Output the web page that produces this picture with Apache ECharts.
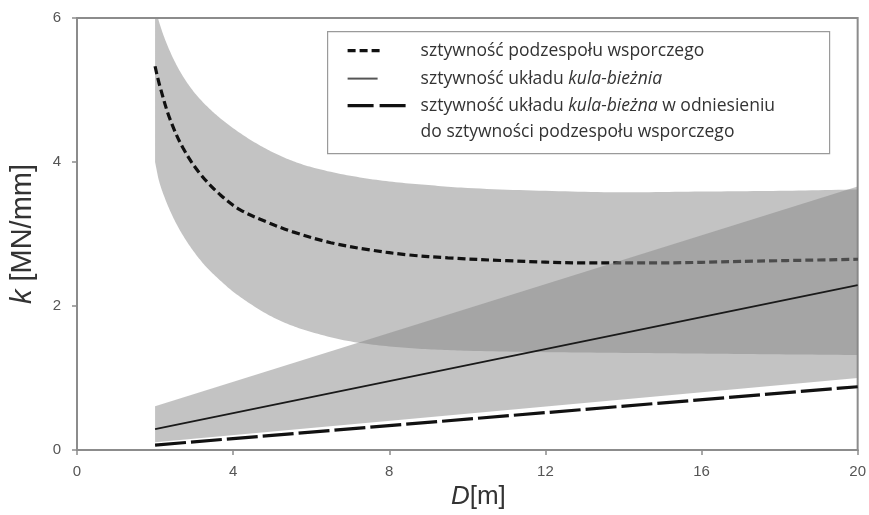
<!DOCTYPE html>
<html>
<head>
<meta charset="utf-8">
<script src="https://cdn.jsdelivr.net/npm/echarts@6/dist/echarts.min.js"></script>
<style>
html,body{margin:0;padding:0;background:#fff;}
#chart{width:869px;height:515px;}
</style>
</head>
<body>
<div id="chart"></div>
<script>
// ---- data ----
const xTicks = [0, 4, 8, 12, 16, 20];
const yTicks = [0, 2, 4, 6];

// band around support-subsystem stiffness
const band1D     = [2, 2.1, 2.25, 2.5, 2.75, 3, 3.3, 3.6, 4, 4.5, 5, 5.5, 6, 7, 8, 9, 10, 12, 14, 16, 18, 20];
const band1Lower = [4.00, 3.74, 3.50, 3.19, 2.95, 2.75, 2.55, 2.39, 2.20, 2.01, 1.85, 1.73, 1.64, 1.51, 1.44, 1.40, 1.38, 1.36, 1.35, 1.34, 1.33, 1.32];
const band1Upper = [6.15, 5.95, 5.71, 5.40, 5.16, 4.97, 4.79, 4.64, 4.47, 4.29, 4.14, 4.02, 3.93, 3.81, 3.73, 3.68, 3.64, 3.60, 3.58, 3.59, 3.60, 3.62];

// support subsystem stiffness (short dashed)
const supportD = [2, 2.12, 2.38, 2.72, 3.15, 3.66, 4.17, 4.85, 5.53, 6.5, 7.5, 8.5, 9.5, 11, 13, 15, 17, 20];
const supportK = [5.33, 5.06, 4.60, 4.19, 3.84, 3.55, 3.34, 3.17, 3.03, 2.88, 2.78, 2.71, 2.67, 2.63, 2.60, 2.60, 2.62, 2.65];

// band around ball-raceway stiffness
const band2D     = [2, 20];
const band2Lower = [0.11, 1.00];
const band2Upper = [0.61, 3.66];

// ball-raceway stiffness (solid)
const ballD = [2, 20];
const ballK = [0.29, 2.29];

// ball-raceway relative to support (long dashed)
const relD = [2, 20];
const relK = [0.07, 0.88];

const seriesNames = [
  'sztywność podzespołu wsporczego',
  'sztywność układu kula-bieżnia',
  'sztywność układu kula-bieżna w odniesieniu do sztywności podzespołu wsporczego'
];

// ---- build ----
const pairs = (xs, ys) => xs.map((x, i) => [x, ys[i]]);
const bandFill = 'rgba(135,135,135,0.5)';
const FONT = '"Open Sans", "Noto Sans", sans-serif';
const AXFONT = '"Liberation Sans", Arial, sans-serif';

// monotone cubic through pixel points (x increasing), sampled for drawing the band edge
function smoothEdge(pts) {
  const n = pts.length;
  if (n < 3) return pts.slice();
  const h = [], d = [];
  for (let i = 0; i < n - 1; i++) {
    h.push(pts[i + 1][0] - pts[i][0]);
    d.push((pts[i + 1][1] - pts[i][1]) / h[i]);
  }
  const t = new Array(n);
  t[0] = d[0]; t[n - 1] = d[n - 2];
  for (let i = 1; i < n - 1; i++) {
    if (d[i - 1] * d[i] <= 0) t[i] = 0;
    else {
      const w1 = 2 * h[i] + h[i - 1], w2 = h[i] + 2 * h[i - 1];
      t[i] = (w1 + w2) / (w1 / d[i - 1] + w2 / d[i]);
    }
  }
  const out = [];
  for (let i = 0; i < n - 1; i++) {
    const x0 = pts[i][0], y0 = pts[i][1], y1 = pts[i + 1][1], hh = h[i];
    const steps = 12;
    for (let s = 0; s < steps; s++) {
      const u = s / steps;
      const h00 = 2*u*u*u - 3*u*u + 1, h10 = u*u*u - 2*u*u + u, h01 = -2*u*u*u + 3*u*u, h11 = u*u*u - u*u;
      out.push([x0 + u * hh, h00 * y0 + h10 * hh * t[i] + h01 * y1 + h11 * hh * t[i + 1]]);
    }
  }
  out.push(pts[n - 1]);
  return out;
}

function bandSeries(name, ds, lo, hi, z) {
  return {
    type: 'custom', name: name, silent: true, z: z,
    data: ds.map((d, i) => [d, lo[i], hi[i]]),
    encode: {x: 0, y: [1, 2]},
    renderItem: function (params, api) {
      if (params.dataIndex !== 0) return null;
      const top = smoothEdge(ds.map((d, i) => api.coord([d, hi[i]])));
      const bottom = smoothEdge(ds.map((d, i) => api.coord([d, lo[i]]))).reverse();
      const cs = params.coordSys;
      return {
        type: 'group',
        clipPath: {type: 'rect', shape: {x: cs.x, y: cs.y, width: cs.width, height: cs.height}},
        children: [{
          type: 'polygon',
          shape: {points: top.concat(bottom)},
          style: {fill: bandFill, stroke: null}
        }]
      };
    }
  };
}

const chart = echarts.init(document.getElementById('chart'), null, {renderer: 'canvas'});

const legendZ = 100;
const option = {
  animation: false,
  backgroundColor: '#fff',
  grid: {left: 77, right: 10, top: 18, bottom: 59, show: true, borderColor: '#8c8c8c', borderWidth: 2},
  xAxis: {
    type: 'value', min: 0, max: 20, interval: 4,
    axisLine: {show: true, onZero: false, lineStyle: {color: '#8c8c8c', width: 2}},
    axisTick: {show: true, length: 5, lineStyle: {color: '#8c8c8c', width: 1.5}},
    axisLabel: {fontSize: 15, color: '#555', margin: 14, fontFamily: AXFONT,
      formatter: v => xTicks.includes(v) ? String(v) : ''},
    splitLine: {show: false},
    name: '{i|D}[m]', nameLocation: 'middle', nameGap: 27,
    nameTextStyle: {fontSize: 26, color: '#333', fontFamily: AXFONT, padding: [0, 0, 0, 22],
      rich: {i: {fontStyle: 'italic', fontSize: 26, color: '#333', fontFamily: AXFONT}}}
  },
  yAxis: {
    type: 'value', min: 0, max: 6, interval: 2,
    axisLine: {show: true, lineStyle: {color: '#8c8c8c', width: 2}},
    axisTick: {show: true, length: 5, lineStyle: {color: '#8c8c8c', width: 1.5}},
    axisLabel: {fontSize: 15, color: '#555', margin: 16, fontFamily: AXFONT,
      formatter: v => yTicks.includes(v) ? String(v) : ''},
    splitLine: {show: false},
    name: '{i|k} [MN/mm]', nameLocation: 'middle', nameGap: 40, nameRotate: 90,
    nameTextStyle: {fontSize: 29, color: '#333', fontFamily: AXFONT,
      rich: {i: {fontStyle: 'italic', fontSize: 29, color: '#333', fontFamily: AXFONT}}}
  },
  series: [
    bandSeries('band1', band1D, band1Lower, band1Upper, 1),
    {type: 'line', name: seriesNames[0], data: pairs(supportD, supportK), smooth: 0.35, symbol: 'none',
      lineStyle: {color: '#111', width: 3.2, type: [8, 4]}, z: 2},
    bandSeries('band2', band2D, band2Lower, band2Upper, 3),
    {type: 'line', name: seriesNames[1], data: pairs(ballD, ballK), symbol: 'none',
      lineStyle: {color: '#1a1a1a', width: 1.8}, z: 4},
    {type: 'line', name: seriesNames[2], data: pairs(relD, relK), symbol: 'none',
      lineStyle: {color: '#111', width: 3.2, type: [31, 5]}, z: 4}
  ],
  graphic: [
    {type: 'group', left: 327, top: 31, z: legendZ, children: [
      {type: 'rect', z: legendZ, shape: {x: 0, y: 0, width: 502, height: 122},
        style: {fill: '#fff', stroke: '#9a9a9a', lineWidth: 1.2}},
      {type: 'line', z: legendZ + 1, shape: {x1: 20, y1: 19, x2: 52, y2: 19},
        style: {stroke: '#111', lineWidth: 3.2, lineDash: [8, 4]}},
      {type: 'line', z: legendZ + 1, shape: {x1: 20, y1: 47, x2: 50, y2: 47},
        style: {stroke: '#555', lineWidth: 2}},
      {type: 'line', z: legendZ + 1, shape: {x1: 20, y1: 74, x2: 78, y2: 74},
        style: {stroke: '#111', lineWidth: 3.2, lineDash: [26, 6]}},
      {type: 'text', z: legendZ + 1, x: 93, y: 19, style: {text: 'sztywność podzespołu wsporczego',
        fontFamily: FONT, fontSize: 17.5, fill: '#333', verticalAlign: 'middle'}},
      {type: 'text', z: legendZ + 1, x: 93, y: 47, style: {text: 'sztywność układu {i|kula-bieżnia}',
        fontFamily: FONT, fontSize: 17.5, fill: '#333', verticalAlign: 'middle',
        rich: {i: {fontStyle: 'italic', fontFamily: FONT, fontSize: 17.5, fill: '#333'}}}},
      {type: 'text', z: legendZ + 1, x: 93, y: 74, style: {text: 'sztywność układu {i|kula-bieżna} w odniesieniu',
        fontFamily: FONT, fontSize: 17.5, fill: '#333', verticalAlign: 'middle',
        rich: {i: {fontStyle: 'italic', fontFamily: FONT, fontSize: 17.5, fill: '#333'}}}},
      {type: 'text', z: legendZ + 1, x: 93, y: 100, style: {text: 'do sztywności podzespołu wsporczego',
        fontFamily: FONT, fontSize: 17.5, fill: '#333', verticalAlign: 'middle'}}
    ]}
  ]
};
chart.setOption(option);
</script>
</body>
</html>
